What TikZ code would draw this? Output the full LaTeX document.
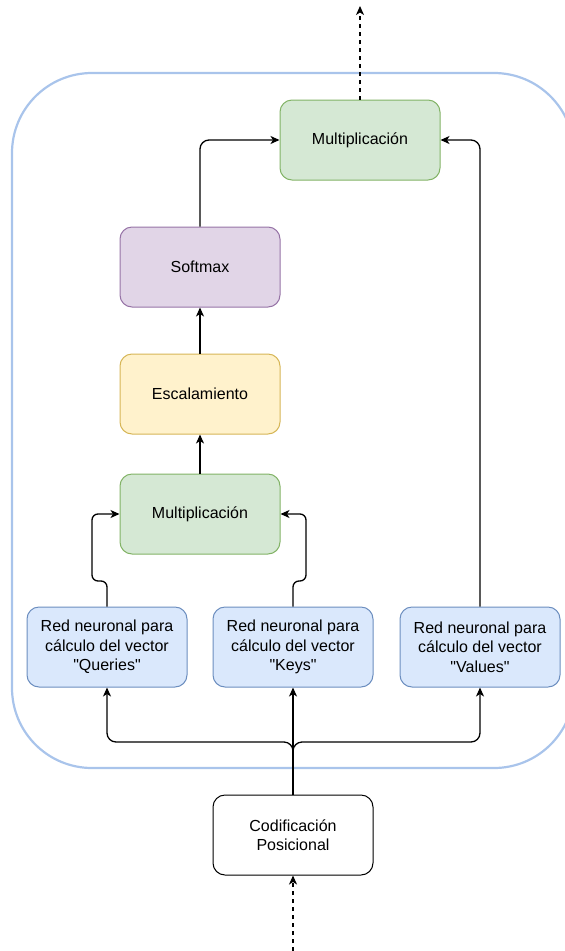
\documentclass[tikz,border=0pt]{standalone}
\usepackage{fontspec}
\setmainfont{Liberation Sans}[Ligatures=TeXOff]
\usetikzlibrary{arrows.meta}
\definecolor{gfill}{HTML}{D5E8D4}\definecolor{gline}{HTML}{82B366}
\definecolor{pfill}{HTML}{E1D5E7}\definecolor{pline}{HTML}{9673A6}
\definecolor{yfill}{HTML}{FFF2CC}\definecolor{yline}{HTML}{D6B656}
\definecolor{bfill}{HTML}{DAE8FC}\definecolor{bline}{HTML}{6C8EBF}
\definecolor{cline}{HTML}{A9C4EB}
\tikzset{
  box/.style={rectangle, rounded corners=12pt, minimum width=160pt, minimum height=80pt,
    inner sep=0pt, line width=1pt, align=center, font=\fontsize{16}{19.5}\selectfont},
  gbox/.style={box, draw=gline, fill=gfill},
  pbox/.style={box, draw=pline, fill=pfill},
  ybox/.style={box, draw=yline, fill=yfill},
  bbox/.style={box, draw=bline, fill=bfill},
  wbox/.style={box, draw=black, fill=white},
  arr/.style={line width=1.3pt, -{Stealth[length=9pt,width=8pt,inset=2.5pt]}},
  dsh/.style={dash pattern=on 4pt off 4pt}
}
\begin{document}
\begin{tikzpicture}[x=1pt,y=-1pt]
\useasboundingbox (0,0) rectangle (565,951);
\clip (0,0) rectangle (565,951);
\draw[cline, line width=2.2pt, rounded corners=80pt] (12,73) rectangle (574,768);
\node[gbox] (mtop) at (360,140) {Multiplicación};
\node[pbox] (soft) at (200,267) {Softmax};
\node[ybox] (esc) at (200,394) {Escalamiento};
\node[gbox] (mlow) at (200,514) {Multiplicación};
\node[bbox] (q) at (107,647) {Red neuronal para\\cálculo del vector\\"Queries"};
\node[bbox] (k) at (293,647) {Red neuronal para\\cálculo del vector\\"Keys"};
\node[bbox] (v) at (480,647) {Red neuronal para\\cálculo del vector\\"Values"};
\node[wbox] (pos) at (293,835) {Codificación\\Posicional};
\coordinate (topend) at (360,6);
\coordinate (botstart) at (293,951);
\coordinate (br) at (293,742);
\draw[arr,dsh] (mtop.north) -- (topend);
\draw[arr,dsh] (botstart) -- (pos.south);
\draw[arr] (pos.north) -- (k.south);
\draw[arr, rounded corners=9pt] (pos.north) -- (br) -| (q.south);
\draw[arr, rounded corners=9pt] (pos.north) -- (br) -| (v.south);
\draw[arr, rounded corners=6pt] (q.north) -- (107,581) -- (92,581) -- (92,514) -- (mlow.west);
\draw[arr, rounded corners=6pt] (k.north) -- (293,581) -- (306,581) -- (306,514) -- (mlow.east);
\draw[arr] (mlow.north) -- (esc.south);
\draw[arr] (esc.north) -- (soft.south);
\draw[arr, rounded corners=9pt] (soft.north) |- (mtop.west);
\draw[arr, rounded corners=9pt] (v.north) |- (mtop.east);
\end{tikzpicture}
\end{document}
